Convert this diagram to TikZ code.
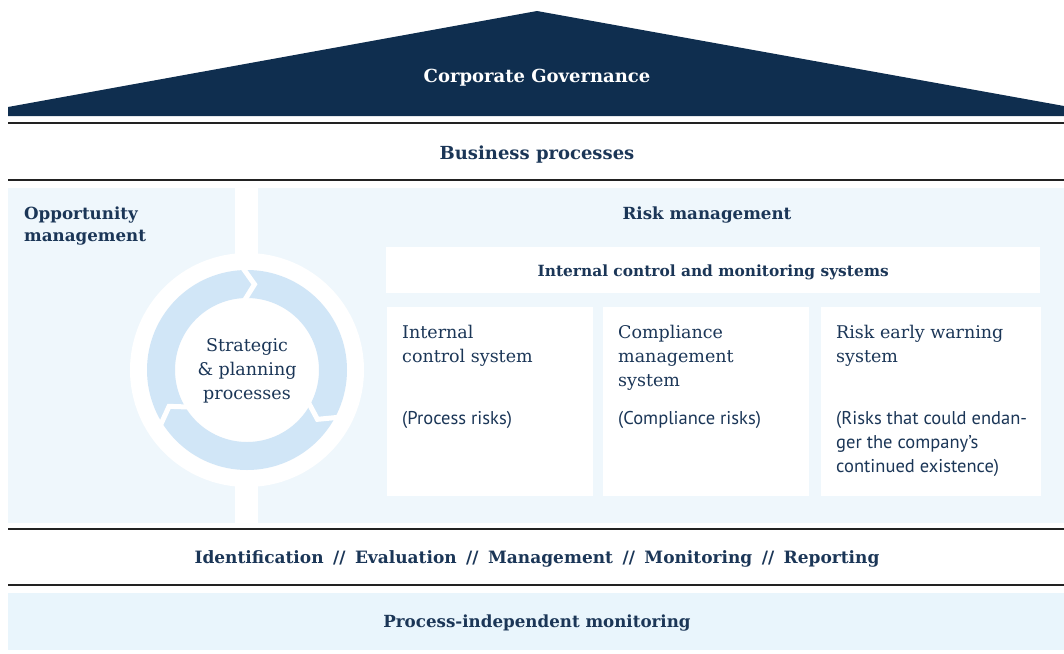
\documentclass[tikz,border=0pt]{standalone}
\usepackage{fontspec}
\setmainfont{DejaVu Serif}
\newfontfamily\sansf{PT Sans}
\definecolor{navy}{HTML}{0F2E4F}
\definecolor{txt}{HTML}{1B3657}
\definecolor{panel}{HTML}{EFF7FC}
\definecolor{ringc}{HTML}{D1E6F7}
\definecolor{band}{HTML}{E9F5FC}
\definecolor{rulec}{HTML}{222222}
\begin{document}
\begin{tikzpicture}[x=1pt,y=-1pt,
  head/.style={font=\bfseries\fontsize{16.7}{20}\selectfont, text=txt, inner sep=0},
  bighead/.style={head, font=\bfseries\fontsize{18}{21}\selectfont},
  boxtitle/.style={font=\fontsize{17.5}{24}\selectfont, text=txt, align=left, anchor=north west, inner sep=0},
  boxnote/.style={font=\sansf\fontsize{18.5}{24}\selectfont, text=txt, align=left, anchor=north west, inner sep=0},
  whitebox/.style={fill=white, draw=none, inner sep=0, anchor=north west},
  hrule/.style={draw=rulec, line width=1.2pt}]
\useasboundingbox (0,0) rectangle (1064,653);
% roof
\fill[navy] (8,116) -- (8,107) -- (537,11) -- (1064,106) -- (1064,116) -- cycle;
\node[bighead, text=white] (cg) at (537,78) {Corporate Governance};
% rules
\coordinate (r1a) at (8,123); \coordinate (r1b) at (1064,123);
\coordinate (r2a) at (8,180); \coordinate (r2b) at (1064,180);
\coordinate (r3a) at (8,529); \coordinate (r3b) at (1064,529);
\coordinate (r4a) at (8,585); \coordinate (r4b) at (1064,585);
\draw[hrule] (r1a) -- (r1b);
\draw[hrule] (r2a) -- (r2b);
\draw[hrule] (r3a) -- (r3b);
\draw[hrule] (r4a) -- (r4b);
\node[bighead] (bp) at (537,155) {Business processes};
% panels
\fill[panel] (8,188) rectangle (1064,523);
\fill[white] (235,188) rectangle (258,523);
\fill[white] (247,370) circle (117pt);
\begin{scope}[shift={(247,370)}, y=1pt]
  \fill[ringc, even odd rule] (0,0) circle (100pt) (0,0) circle (72pt);
  \foreach \a in {0,-120,120}{
    \draw[white, line width=5pt, line join=miter, rotate=\a] (93:104) -- (85:86) -- (93:68);
  }
\end{scope}
\node[font=\fontsize{17.5}{24}\selectfont, text=txt, align=center] (spp) at (247,371) {Strategic\\\&~planning\\processes};
\node[head, align=left, anchor=north west, font=\bfseries\fontsize{16.7}{22}\selectfont] (opp) at (24,207) {Opportunity\\management};
\node[head] (rm) at (707,215) {Risk management};
% internal control box
\node[whitebox, minimum width=654pt, minimum height=46pt] (icbox) at (386,247) {};
\node[head, font=\bfseries\fontsize{15.4}{18}\selectfont] (ic) at ([yshift=-2pt]icbox.center) {Internal control and monitoring systems};
% three boxes
\node[whitebox, minimum width=206pt, minimum height=189pt] (b1) at (387,307) {};
\node[whitebox, minimum width=206pt, minimum height=189pt] (b2) at (603,307) {};
\node[whitebox, minimum width=220pt, minimum height=189pt] (b3) at (821,307) {};
\node[boxtitle] (t1) at (402,325) {Internal\\control system};
\node[boxtitle] (t2) at (618,325) {Compliance\\management\\system};
\node[boxtitle] (t3) at (836,325) {Risk early warning\\system};
\node[boxnote] (n1) at (402,411) {(Process risks)};
\node[boxnote] (n2) at (618,411) {(Compliance risks)};
\node[boxnote] (n3) at (836,411) {(Risks that could endan-\\ger the company’s\\continued existence)};
% steps
\node[head, font=\bfseries\fontsize{17}{20}\selectfont] (steps) at (537,559) {Identification\hspace{9.5pt}//\hspace{9.5pt}Evaluation\hspace{9.5pt}//\hspace{9.5pt}Management\hspace{9.5pt}//\hspace{9.5pt}Monitoring\hspace{9.5pt}//\hspace{9.5pt}Reporting};
% bottom band
\fill[band] (8,593) rectangle (1064,650);
\node[head] (pim) at (537,623) {Process-independent monitoring};
\end{tikzpicture}
\end{document}
